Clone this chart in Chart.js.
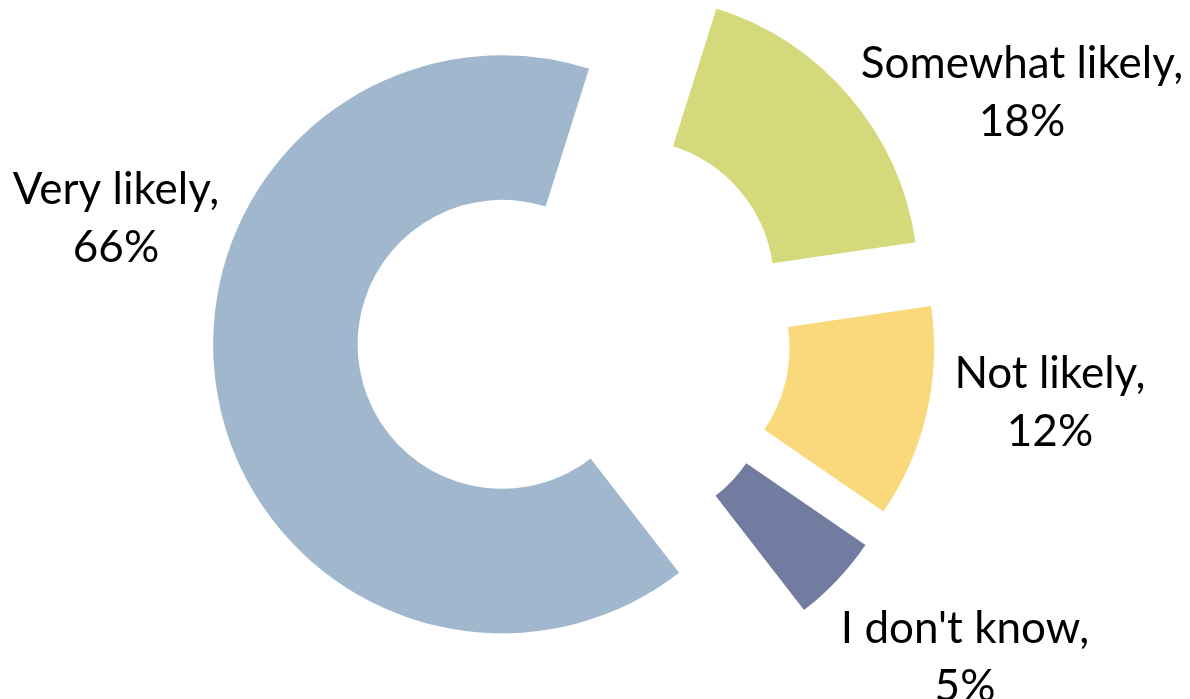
<!DOCTYPE html>
<html>
<head>
<meta charset="utf-8">
<script src="https://cdn.jsdelivr.net/npm/chart.js@4.4.0/dist/chart.umd.min.js"></script>
<style>
  body { margin: 0; background: #fff; }
  #wrap { position: relative; width: 1190px; height: 699px; }
  #wrap canvas { position: absolute; left: 0; top: 0; }
</style>
</head>
<body>
<div id="wrap"></div>
<script>
// Data
const categories = ["Somewhat likely", "Not likely", "I don't know", "Very likely"];
const values = [18, 12, 5, 66];
const colors = ["#D4DA7B", "#F9D97C", "#727CA1", "#A1B7CD"];

// Layout (pixels)
const W = 1190, H = 699;
const center = { x: 574, y: 331.5 }; // doughnut centre before the slices are pulled out
const radius = 289;
const explode = 73;   // every slice is pulled out by this much
const rotation = 17.5;
// label anchors: centre x, baseline of the first line
const labelAnchors = [[1022, 78], [1050, 388], [965, 643], [116, 204]];

const labelPlugin = {
  id: "sliceLabels",
  afterDraw(chart) {
    const ctx = chart.ctx;
    ctx.save();
    ctx.font = "44px Lato";
    ctx.fillStyle = "#000";
    ctx.textAlign = "center";
    ctx.textBaseline = "alphabetic";
    categories.forEach((c, i) => {
      const [x, y] = labelAnchors[i];
      ctx.fillText(c + ",", x, y);
      ctx.fillText(values[i] + "%", x, y + 58);
    });
    ctx.restore();
  },
};

// One doughnut per slice, each one shifted out along its own middle angle
const wrap = document.getElementById("wrap");
const total = values.reduce((a, b) => a + b, 0);
let cum = 0;
values.forEach((v, i) => {
  const mid = (rotation + ((cum + v / 2) / total) * 360) * Math.PI / 180;
  cum += v;
  const cx = center.x + explode * Math.sin(mid);
  const cy = center.y - explode * Math.cos(mid);

  const canvas = document.createElement("canvas");
  canvas.width = W;
  canvas.height = H;
  wrap.appendChild(canvas);

  new Chart(canvas, {
    type: "doughnut",
    data: {
      labels: categories,
      datasets: [{
        data: values,
        backgroundColor: colors.map((c, j) => (j === i ? c : "rgba(0,0,0,0)")),
        borderWidth: 0,
      }],
    },
    options: {
      responsive: false,
      animation: false,
      rotation: rotation,
      cutout: "50%",
      radius: radius,
      layout: {
        padding: {
          left: Math.max(0, 2 * cx - W),
          right: Math.max(0, W - 2 * cx),
          top: Math.max(0, 2 * cy - H),
          bottom: Math.max(0, H - 2 * cy),
        },
      },
      plugins: {
        legend: { display: false },
        tooltip: { enabled: false },
      },
    },
    plugins: i === values.length - 1 ? [labelPlugin] : [],
  });
});
</script>
</body>
</html>
